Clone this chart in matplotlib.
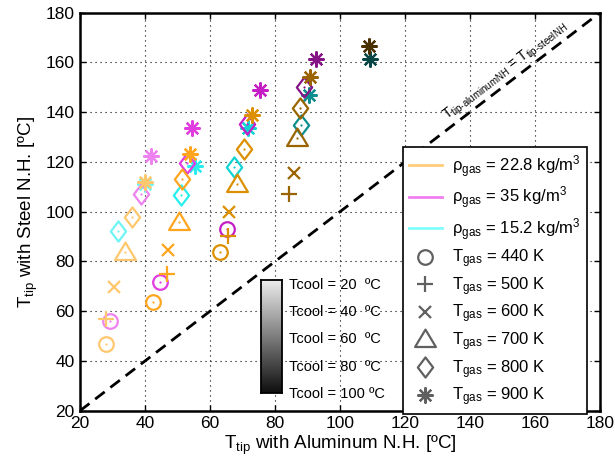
import numpy as np
import matplotlib
matplotlib.use('Agg')
import matplotlib.pyplot as plt
from matplotlib.path import Path
from matplotlib.lines import Line2D
from matplotlib.colors import LinearSegmentedColormap

plt.rcParams['font.family'] = ['Liberation Sans', 'DejaVu Sans']
plt.rcParams['mathtext.fontset'] = 'custom'
plt.rcParams['mathtext.rm'] = 'Liberation Sans'
plt.rcParams['mathtext.it'] = 'Liberation Sans:italic'
plt.rcParams['mathtext.bf'] = 'Liberation Sans:bold'

# ---------------- data ----------------
nan = np.nan
tgas_labels = ['440 K', '500 K', '600 K', '700 K', '800 K', '900 K']
rho_labels = ['22.8', '35', '15.2']
tcool_levels = [20, 40, 60, 80, 100]

# rows: Tcool = 20, 40, 60, 80, 100 ; columns: Tgas = 440..900 K
x_rho22_8 = [[28, 28, 30.6, 34, 36, 40],
             [42.6, 46.9, 47.2, 50.6, 51.3, 54],
             [63.1, 65.5, 66, 68.2, 70.5, 72.8],
             [nan, 84.3, 85.8, 86.7, 87.7, 90.8],
             [nan, nan, nan, nan, nan, 108.9]]
y_rho22_8 = [[47, 56.7, 69.8, 83.9, 97.9, 112],
             [63.8, 74.8, 84.8, 95.9, 113.3, 123.1],
             [83.9, 90.3, 99.7, 111, 125.4, 138.8],
             [nan, 107.3, 115.6, 129.8, 141.8, 154.1],
             [nan, nan, nan, nan, nan, 166.8]]

x_rho35 = [[29.2, nan, nan, nan, 38.8, 42],
           [44.6, nan, nan, nan, 52.8, 54.4],
           [65.3, nan, nan, nan, 71.5, 75.4],
           [nan, nan, nan, nan, 89, 92.5],
           [nan, nan, nan, nan, nan, nan]]
y_rho35 = [[56, nan, nan, nan, 107.3, 122.3],
           [71.6, nan, nan, nan, 119.4, 133.8],
           [93, nan, nan, nan, 135.4, 149.1],
           [nan, nan, nan, nan, 150.1, 161.5],
           [nan, nan, nan, nan, nan, nan]]

x_rho15_2 = [[nan, nan, nan, nan, 31.8, 40],
             [nan, nan, nan, nan, 51, 55.4],
             [nan, nan, nan, nan, 67.5, 71.8],
             [nan, nan, nan, nan, 87.9, 90.4],
             [nan, nan, nan, nan, nan, 109.4]]
y_rho15_2 = [[nan, nan, nan, nan, 92.2, 111],
             [nan, nan, nan, nan, 106.6, 118.3],
             [nan, nan, nan, nan, 117.8, 133.8],
             [nan, nan, nan, nan, 134.7, 146.8],
             [nan, nan, nan, nan, nan, 161.5]]

# ---------------- styles ----------------
shade_orange = ['#ffc86e', '#ffa51e', '#dc9000', '#9a6400', '#4a3000']
shade_magenta = ['#ee82ee', '#e03ce0', '#c41ec4', '#861486', '#400a40']
shade_cyan = ['#70f4f4', '#28eeee', '#10d4d4', '#0c8e8e', '#084646']
legend_line_colors = ['#ffcc77', '#f080f0', '#80ffff']

tri_path = Path([(-1, -0.72), (1, -0.72), (0, 0.95), (-1, -0.72)],
                [Path.MOVETO, Path.LINETO, Path.LINETO, Path.CLOSEPOLY])
dia_path = Path([(0, 1), (0.76, 0), (0, -1), (-0.76, 0), (0, 1)],
                [Path.MOVETO, Path.LINETO, Path.LINETO, Path.LINETO, Path.CLOSEPOLY])
markers = ['o', '+', 'x', tri_path, dia_path, (8, 2, 0)]
msizes = [10.5, 11.5, 8.5, 15, 14.5, 11.5]
open_marker = [True, False, False, True, True, False]

fig = plt.figure(figsize=(6.15, 4.70), dpi=100)
ax = fig.add_axes([0.130, 0.126, 0.8455, 0.847])

# diagonal
diag = [20, 180]
ax.plot(diag, diag, color='black', lw=2.0, ls=(0, (4.3, 2.6)), zorder=2)

series = [(x_rho15_2, y_rho15_2, shade_cyan),
          (x_rho35, y_rho35, shade_magenta),
          (x_rho22_8, y_rho22_8, shade_orange)]
for xs, ys, shades in series:
    for ti in range(len(tcool_levels)):
        for mi in range(len(tgas_labels)):
            xv, yv = xs[ti][mi], ys[ti][mi]
            if np.isnan(xv):
                continue
            c = shades[ti]
            ax.plot([xv], [yv], ls='none', marker=markers[mi], ms=msizes[mi],
                    mfc='none', mec=c, mew=1.6, zorder=3)
            if open_marker[mi]:
                ax.plot([xv], [yv], ls='none', marker='o', ms=1.6,
                        mfc=c, mec='none', zorder=3)

ax.set_xlim(20, 180)
ax.set_ylim(20, 180)
ticks = [20, 40, 60, 80, 100, 120, 140, 160, 180]
ax.set_xticks(ticks)
ax.set_yticks(ticks)
ax.tick_params(direction='in', length=4, width=1, top=True, right=True,
               labelsize=12.5, pad=4)
ax.grid(True, color='black', ls=(0, (1, 3.5)), lw=0.8)
ax.set_axisbelow(True)
for sp in ax.spines.values():
    sp.set_linewidth(1.8)

ax.set_xlabel(r'T$_{\mathrm{tip}}$ with Aluminum N.H. [ºC]', fontsize=13.5, labelpad=2)
ax.set_ylabel(r'T$_{\mathrm{tip}}$ with Steel N.H. [ºC]', fontsize=13.5, labelpad=4)

ax.text(151, 156.5, r'T$_{\mathrm{tip‐aluminumNH}}$ = T$_{\mathrm{tip‐steelNH}}$',
        rotation=45, transform_rotates_text=True, rotation_mode='anchor',
        ha='center', va='center', fontsize=10, zorder=4)

# legend
handles = []
labels = []
for c, r in zip(legend_line_colors, rho_labels):
    handles.append(Line2D([], [], color=c, lw=2))
    labels.append(r'ρ$_{\mathrm{gas}}$ = ' + r + r' kg/m$^{3}$')
for m, s, t in zip(markers, msizes, tgas_labels):
    handles.append(Line2D([], [], ls='none', marker=m, ms=s, mfc='none',
                          mec='#606060', mew=1.6))
    labels.append(r'T$_{\mathrm{gas}}$ = ' + t)
leg = ax.legend(handles, labels, loc='upper left', bbox_to_anchor=(0.621, 0.662),
                bbox_transform=ax.transAxes, fontsize=12, frameon=True,
                fancybox=False, edgecolor='black', framealpha=1,
                borderpad=0.35, labelspacing=0.3, handlelength=2.0,
                handletextpad=0.6, borderaxespad=0)
leg.get_frame().set_linewidth(1.2)
leg.set_zorder(5)

# grayscale Tcool bar
cax = ax.inset_axes([0.348, 0.044, 0.040, 0.284])
cmap = LinearSegmentedColormap.from_list('g', ['#efefef', '#0e0e0e'])
lo, hi = 17.55, 100.8
grad = np.linspace(lo, hi, 256).reshape(-1, 1)
cax.imshow(grad, cmap=cmap, aspect='auto', extent=[0, 1, hi, lo], origin='upper')
cax.set_ylim(hi, lo)
cax.set_xlim(0, 1)
cax.set_xticks([])
cax.yaxis.tick_right()
cax.set_yticks(tcool_levels)
cax.set_yticklabels(['Tcool = %d  ºC' % t if t < 100 else 'Tcool = %d ºC' % t
                     for t in tcool_levels])
cax.tick_params(axis='y', length=0, labelsize=10.5, pad=5)
for sp in cax.spines.values():
    sp.set_linewidth(1.3)

fig.savefig('out.png', dpi=100)
